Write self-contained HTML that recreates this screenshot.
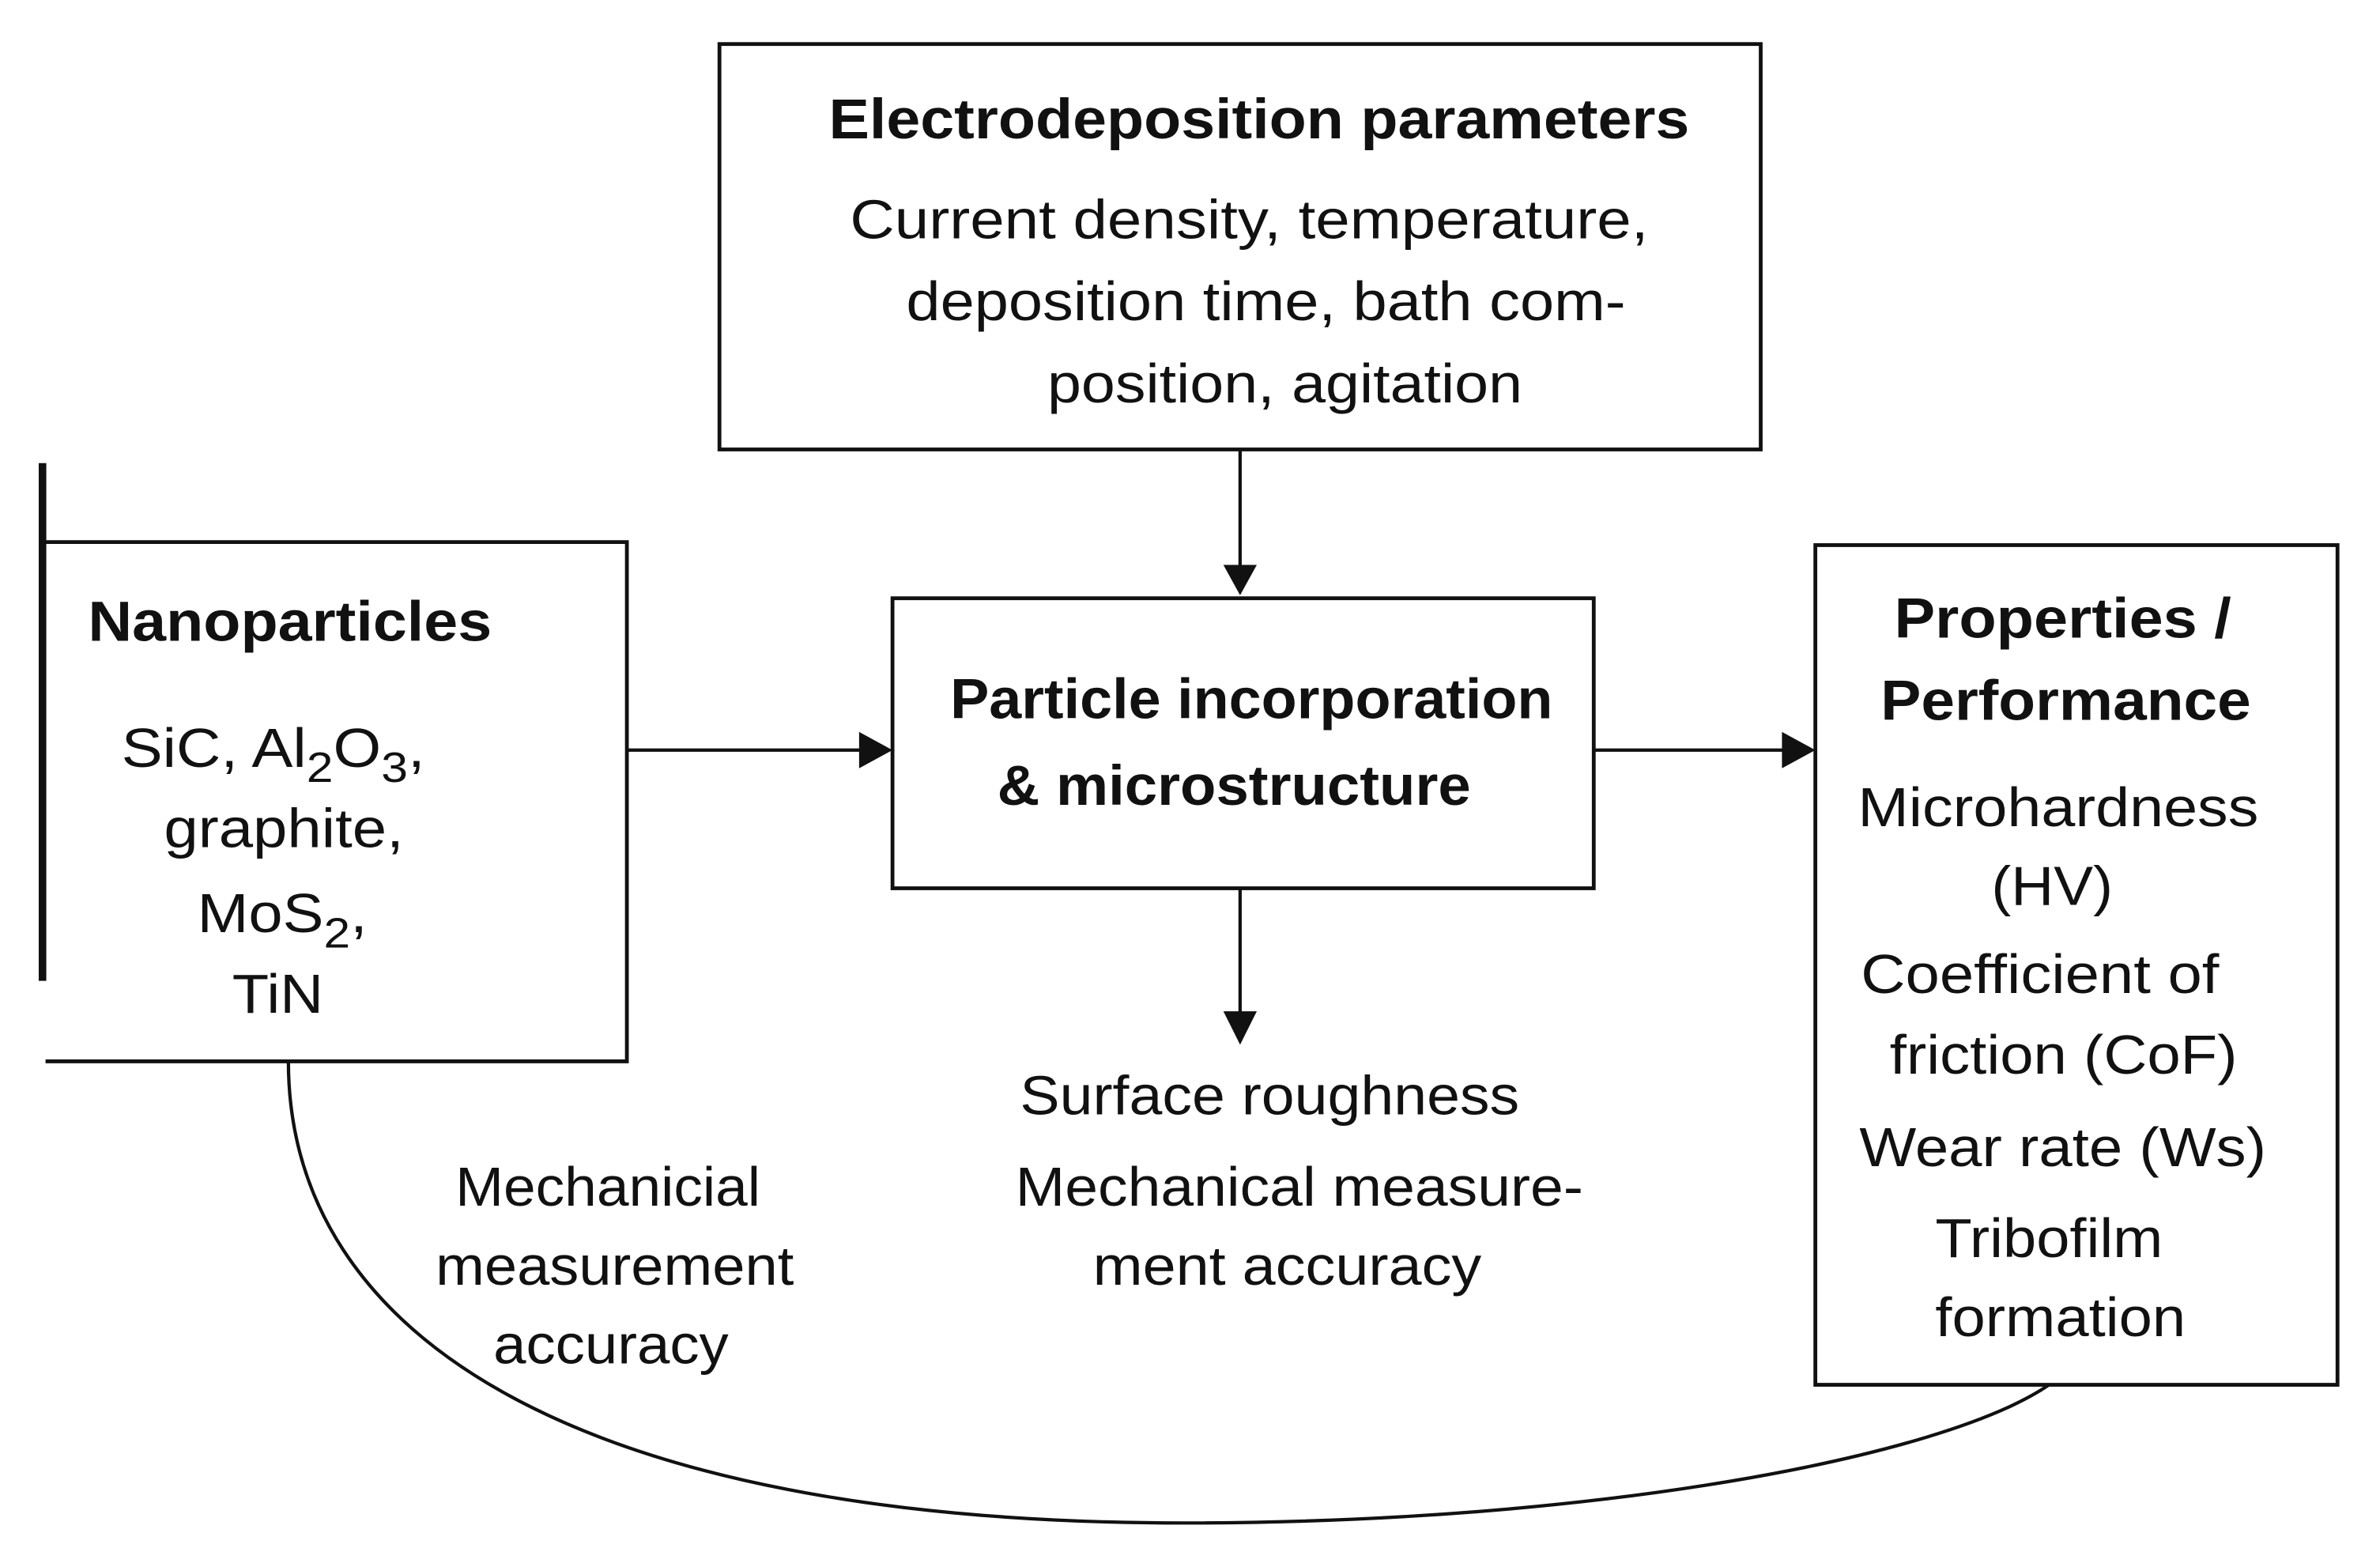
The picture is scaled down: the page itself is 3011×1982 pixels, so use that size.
<!DOCTYPE html>
<html><head><meta charset="utf-8"><style>
html,body{margin:0;padding:0;background:#fff}
svg{display:block}
text{font-family:"Liberation Sans",Arial,sans-serif;fill:#111}
.b{font-weight:bold;font-size:37px}
.n{font-size:36px}
</style></head><body>
<svg width="3011" height="1982" viewBox="0 0 1568 1032" preserveAspectRatio="none" xmlns="http://www.w3.org/2000/svg">
<g fill="none" stroke="#111" stroke-width="2.5">
<rect x="474" y="29" width="686" height="267"/>
<rect x="588" y="394" width="462" height="191"/>
<path d="M30 357 H413 V699 H30"/>
<rect x="1196" y="359" width="344" height="553"/>
<path d="M28 305 V646" stroke-width="5"/>
<path d="M190 699 C190 880 380 1003 780 1003 C1050 1003 1280 960 1350 912" stroke-width="2.2"/>
</g>
<g stroke="#111" stroke-width="2.2">
<line x1="817" y1="296" x2="817" y2="374"/>
<line x1="817" y1="585" x2="817" y2="668"/>
<line x1="413" y1="494" x2="568" y2="494"/>
<line x1="1050" y1="494" x2="1176" y2="494"/>
</g>
<g fill="#111">
<path d="M806 372 L828 372 L817 392 z"/>
<path d="M806 666 L828 666 L817 688 z"/>
<path d="M566 482 L566 506 L588 494 z"/>
<path d="M1174 482 L1174 506 L1196 494 z"/>
</g>
<text class="b" x="546" y="91" textLength="567" lengthAdjust="spacingAndGlyphs">Electrodeposition parameters</text>
<text class="n" x="560" y="157" textLength="526" lengthAdjust="spacingAndGlyphs">Current density, temperature,</text>
<text class="n" x="597" y="211" textLength="474" lengthAdjust="spacingAndGlyphs">deposition time, bath com-</text>
<text class="n" x="690" y="265" textLength="313" lengthAdjust="spacingAndGlyphs">position, agitation</text>
<text class="b" x="58" y="422" textLength="266" lengthAdjust="spacingAndGlyphs">Nanoparticles</text>
<text class="n" x="80" y="505" textLength="200" lengthAdjust="spacingAndGlyphs">SiC, Al<tspan font-size="28" dy="10">2</tspan><tspan dy="-10">O</tspan><tspan font-size="28" dy="10">3</tspan><tspan dy="-10">,</tspan></text>
<text class="n" x="108" y="558" textLength="158" lengthAdjust="spacingAndGlyphs">graphite,</text>
<text class="n" x="130" y="614" textLength="112" lengthAdjust="spacingAndGlyphs">MoS<tspan font-size="28" dy="10">2</tspan><tspan dy="-10">,</tspan></text>
<text class="n" x="153" y="667" textLength="60" lengthAdjust="spacingAndGlyphs">TiN</text>
<text class="b" x="626" y="473" textLength="397" lengthAdjust="spacingAndGlyphs">Particle incorporation</text>
<text class="b" x="657" y="530" textLength="312" lengthAdjust="spacingAndGlyphs">&amp; microstructure</text>
<text class="b" x="1248" y="420" textLength="222" lengthAdjust="spacingAndGlyphs">Properties /</text>
<text class="b" x="1239" y="474" textLength="244" lengthAdjust="spacingAndGlyphs">Performance</text>
<text class="n" x="1224" y="544" textLength="264" lengthAdjust="spacingAndGlyphs">Microhardness</text>
<text class="n" x="1312" y="596" textLength="80" lengthAdjust="spacingAndGlyphs">(HV)</text>
<text class="n" x="1226" y="654" textLength="236" lengthAdjust="spacingAndGlyphs">Coefficient of</text>
<text class="n" x="1245" y="707" textLength="229" lengthAdjust="spacingAndGlyphs">friction (CoF)</text>
<text class="n" x="1225" y="768" textLength="268" lengthAdjust="spacingAndGlyphs">Wear rate (Ws)</text>
<text class="n" x="1275" y="828" textLength="150" lengthAdjust="spacingAndGlyphs">Tribofilm</text>
<text class="n" x="1275" y="880" textLength="165" lengthAdjust="spacingAndGlyphs">formation</text>
<text class="n" x="672" y="734" textLength="329" lengthAdjust="spacingAndGlyphs">Surface roughness</text>
<text class="n" x="669" y="794" textLength="374" lengthAdjust="spacingAndGlyphs">Mechanical measure-</text>
<text class="n" x="720" y="846" textLength="256" lengthAdjust="spacingAndGlyphs">ment accuracy</text>
<text class="n" x="300" y="794" textLength="201" lengthAdjust="spacingAndGlyphs">Mechanicial</text>
<text class="n" x="287" y="846" textLength="236" lengthAdjust="spacingAndGlyphs">measurement</text>
<text class="n" x="325" y="898" textLength="155" lengthAdjust="spacingAndGlyphs">accuracy</text>
</svg>
</body></html>
